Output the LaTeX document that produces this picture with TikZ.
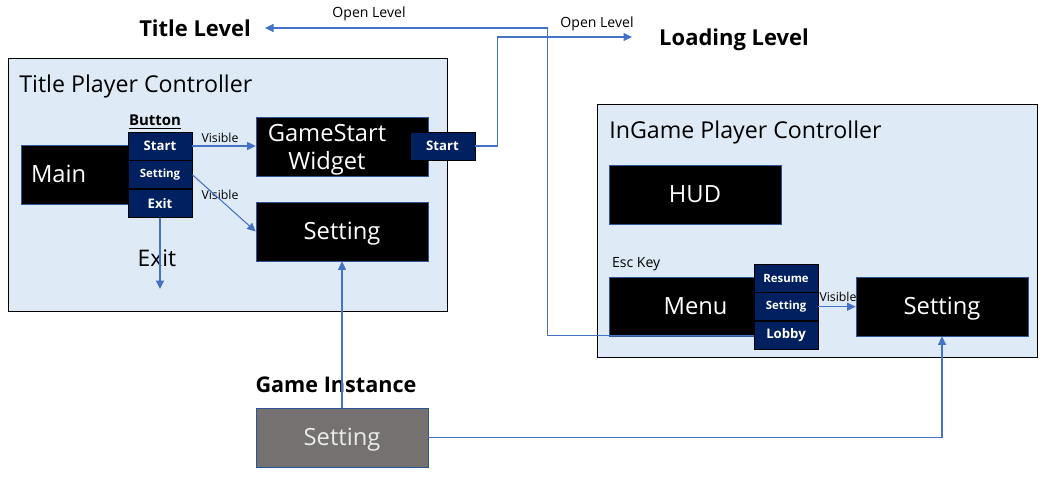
\documentclass[tikz,border=0pt]{standalone}
\usepackage{fontspec}
\setmainfont{Open Sans}
\usepackage{tikz}
\usepackage{xcolor}
\usetikzlibrary{arrows.meta, positioning}
\definecolor{cPanel}{RGB}{222,234,246}
\definecolor{cNavy}{RGB}{0,32,96}
\definecolor{cGrey}{RGB}{118,113,113}
\definecolor{cLine}{RGB}{68,114,196}
\definecolor{cEdge}{RGB}{47,85,151}
\tikzset{
	panel/.style ={rectangle, draw=black, fill=cPanel, minimum width=8.78cm, minimum height=5.06cm},
	ptitle/.style={anchor=west, inner sep=0pt, font=\fontsize{13.2}{15}\selectfont},
	blk/.style   ={rectangle, draw=cEdge, fill=black, text=white, minimum width=3.44cm, minimum height=1.18cm, align=center, text height=1.0em, text depth=0.08em, font=\fontsize{13.5}{15}\selectfont},
	blktext/.style={text=white, align=center, inner sep=0pt, font=\fontsize{13.5}{15}\selectfont},
	btn/.style   ={rectangle, draw=black, fill=cNavy, text=white, minimum width=1.28cm, minimum height=0.56cm, inner sep=0pt, font=\bfseries\fontsize{7.5}{9}\selectfont},
	lvl/.style   ={font=\bfseries\fontsize{12.5}{14}\selectfont, inner sep=1pt},
	note/.style  ={font=\fontsize{7}{8}\selectfont, inner sep=1pt},
	sig/.style   ={-{Triangle[length=1.7mm, width=1.6mm]}, cLine, semithick},
}
\begin{document}
\begin{tikzpicture}[x=0.02cm, y=-0.02cm]
	\useasboundingbox (0,0) rectangle (1050,493);
	% levels
	\node[lvl] (titlelvl) at (195,28) {Title Level};
	\node[lvl] (loadlvl) at (734,40) {Loading Level};
	\coordinate (tlin) at (265,28);
	\coordinate (ldin) at (632,37);
	% title player controller
	\node[panel] (tpc) at (227.5,184.5) {};
	\node[ptitle] (tpctitle) at (19,86) {Title Player Controller};
	\node[blk, minimum width=2.16cm, text width=1.76cm, inner xsep=0.2cm, align=left] (main) at (75,174.5) {Main};
	\node[btn] (tstart) at (160,146) {Start};
	\node[btn, below=0pt of tstart, font=\bfseries\fontsize{6.5}{8}\selectfont] (tsetbtn) {Setting};
	\node[btn, below=0pt of tsetbtn] (texit) {Exit};
	\node[font=\bfseries\fontsize{8.5}{10}\selectfont, inner sep=0pt] (btnlbl) at (155,122) {\underline{Button}};
	\node[blk] (gsw) at (342,146.5) {};
	\node[blktext] (gswlbl) at (327,150) {GameStart\\[1pt]Widget};
	\node[btn, minimum width=1.30cm] (gstart) at (442.5,146) {Start};
	\node[blk] (tset) at (342,231.5) {Setting};
	\coordinate (exitend) at (160,289);
	\node[font=\fontsize{13}{15}\selectfont, inner sep=0pt] (exitlbl) at (157,258) {Exit};
	\node[note] (vis1) at (220,138) {Visible};
	\node[note] (vis2) at (220,195) {Visible};
	\draw[sig] (tstart.east) -- (tstart.east -| gsw.west);
	\draw[sig] (tsetbtn.east) -- (tset.west);
	\draw[sig] (texit) -- (exitend);
	% ingame player controller
	\node[panel, minimum width=8.8cm] (igpc) at (817,230.5) {};
	\node[ptitle] (igtitle) at (609,132) {InGame Player Controller};
	\node[blk] (hud) at (695,194.5) {HUD};
	\node[note, anchor=west, font=\fontsize{8}{9}\selectfont] (esc) at (610,264) {Esc Key};
	\node[blk, minimum width=3.46cm] (menu) at (695.5,306.5) {Menu};
	\node[btn, font=\bfseries\fontsize{6.5}{8}\selectfont] (resume) at (786,278) {Resume};
	\node[btn, below=0pt of resume, font=\bfseries\fontsize{6.5}{8}\selectfont] (isetbtn) {Setting};
	\node[btn, below=0pt of isetbtn] (lobby) {Lobby};
	\node[blk] (iset) at (942,306.5) {Setting};
	\node[note, anchor=south] (vis3) at (838,304) {Visible};
	\draw[sig] (isetbtn.east) -- (isetbtn.east -| iset.west);
	% game instance
	\node[lvl, font=\bfseries\fontsize{12.3}{14}\selectfont] (gilbl) at (336,385) {Game Instance};
	\node[blk, fill=cGrey, text=white!92!black] (gset) at (342,437.5) {Setting};
	\draw[sig] (gset.north) -- (tset.south);
	\draw[sig] (gset.east) -| (iset.south);
	% open level links
	\node[note, font=\fontsize{8}{9}\selectfont] (ol1) at (369,14) {Open Level};
	\node[note, font=\fontsize{8}{9}\selectfont] (ol2) at (597,24) {Open Level};
	\draw[sig] (gstart.east) -- ++(22,0) |- (ldin);
	\draw[sig] (lobby.west) -- ++(-206,0) |- (tlin);
\end{tikzpicture}
\end{document}
